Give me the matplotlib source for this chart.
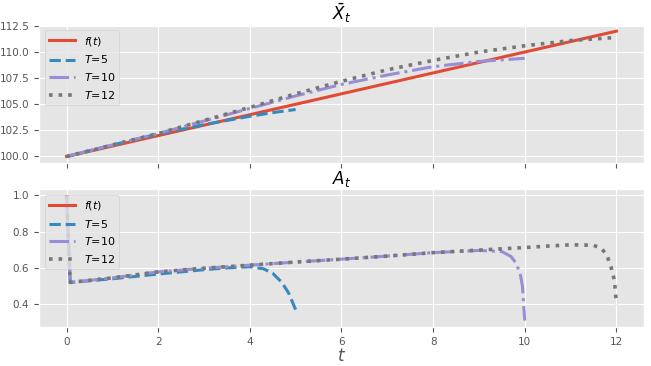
import matplotlib
matplotlib.use("Agg")
import matplotlib.pyplot as plt

plt.style.use("ggplot")

# top panel: X bar
t_f = [0, 12]
x_f = [100, 112]
t5_x = [0, 1, 2, 3, 4, 4.5, 5]
x5 = [100, 101.1, 102.15, 103.05, 103.85, 104.2, 104.5]
t10_x = [0, 1, 2, 3, 4, 5, 6, 7, 8, 9, 10]
x10 = [100, 101.1, 102.2, 103.4, 104.6, 105.8, 106.9, 107.8, 108.6, 109.1, 109.4]
t12_x = [0, 1, 2, 3, 4, 5, 6, 7, 8, 9, 10, 11, 12]
x12 = [100, 101.1, 102.2, 103.45, 104.7, 106.0, 107.2, 108.3, 109.2, 110.0, 110.6, 111.1, 111.4]
x_ticks_top = [100, 102.5, 105, 107.5, 110, 112.5]

# bottom panel: A
t5_a = [0, 0.08, 1, 2, 3, 3.5, 4, 4.3, 4.5, 4.7, 4.85, 5]
a5 = [1.0, 0.52, 0.54, 0.566, 0.59, 0.6, 0.606, 0.595, 0.57, 0.52, 0.46, 0.37]
t10_a = [0, 0.08, 1, 2, 3, 4, 5, 6, 7, 8, 9, 9.5, 9.7, 9.8, 9.9, 9.95, 10]
a10 = [1.0, 0.52, 0.545, 0.578, 0.598, 0.615, 0.632, 0.648, 0.665, 0.684, 0.696, 0.69, 0.663, 0.63, 0.57, 0.5, 0.31]
t12_a = [0, 0.08, 1, 2, 3, 4, 5, 6, 7, 8, 9, 10, 10.5, 11, 11.5, 11.68, 11.79, 11.88, 11.96, 12]
a12 = [1.0, 0.52, 0.545, 0.578, 0.598, 0.615, 0.632, 0.648, 0.665, 0.684, 0.698, 0.712, 0.72, 0.727, 0.725, 0.705, 0.672, 0.608, 0.53, 0.40]

fig, (ax1, ax2) = plt.subplots(2, 1, sharex=True, figsize=(6.51, 3.66), dpi=100)
fig.subplots_adjust(left=0.06, right=0.989, top=0.932, bottom=0.107, hspace=0.19)

ax1.plot(t_f, x_f, "-", lw=2.2, label=r"$f(t)$")
ax1.plot(t5_x, x5, "--", lw=2.2, label=r"$T$=5")
ax1.plot(t10_x, x10, "-.", lw=2.2, label=r"$T$=10")
ax1.plot(t12_x, x12, ":", lw=2.6, label=r"$T$=12")
ax1.set_title(r"$\bar{X}_t$", fontsize=12, pad=3)
ax1.set_yticks(x_ticks_top)

ax2.plot([], [], "-", lw=2.2, label=r"$f(t)$")
ax2.plot(t5_a, a5, "--", lw=2.2, label=r"$T$=5")
ax2.plot(t10_a, a10, "-.", lw=2.2, label=r"$T$=10")
ax2.plot(t12_a, a12, ":", lw=2.6, label=r"$T$=12")
ax2.set_title(r"$A_t$", fontsize=12, pad=3)
ax2.set_xlabel(r"$t$", fontsize=12, labelpad=0)
ax2.set_xticks([0, 2, 4, 6, 8, 10, 12])
ax2.set_yticks([0.4, 0.6, 0.8, 1.0])

for ax in (ax1, ax2):
    ax.tick_params(labelsize=7.5)
    ax.legend(loc="upper left", fontsize=8, handlelength=2.3)

fig.savefig("out.png", dpi=100)
